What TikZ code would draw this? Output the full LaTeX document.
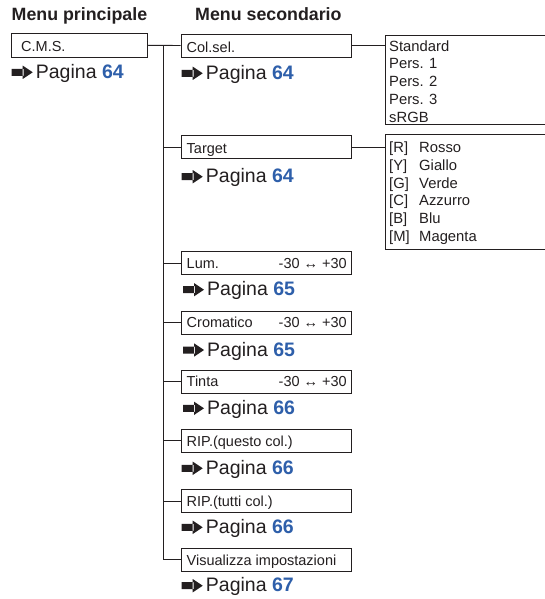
\documentclass[tikz,border=0pt]{standalone}
\usepackage{fontspec}
\setmainfont{Liberation Sans}
\definecolor{pblue}{RGB}{46,95,170}
\definecolor{ink}{RGB}{35,31,32}
\newcommand\pagref[4]{%
  \fill[ink] (#2,#3-9.5) rectangle (#2+12,#3-2.5)
             (#2+11,#3-12.7) -- (#2+21,#3-6) -- (#2+11,#3+0.7) -- cycle;
  \node[pagtxt] (#1) at (#2+24,#3) {Pagina \textcolor{pblue}{\textbf{#4}}};}
\begin{document}
\begin{tikzpicture}[x=1pt,y=-1pt,
  box/.style={draw=ink,line width=0.9pt,rectangle,inner sep=0pt,minimum width=170.5pt,minimum height=23pt},
  lab/.style={anchor=base west,inner sep=0pt,font=\fontsize{14.5}{16}\selectfont,text=ink},
  rng/.style={anchor=base east,inner sep=0pt,font=\fontsize{14.5}{16}\selectfont,text=ink},
  opt/.style={anchor=base west,inner sep=0pt,font=\fontsize{14.8}{16}\selectfont,text=ink},
  head/.style={anchor=base west,inner sep=0pt,font=\fontsize{17.8}{20}\selectfont\bfseries,text=ink},
  pagtxt/.style={anchor=base west,inner sep=0pt,font=\fontsize{19.5}{22}\selectfont,text=ink},
  conn/.style={draw=ink,line width=0.9pt}]
\useasboundingbox (0,0) rectangle (545,599);
\clip (0,0) rectangle (545,599);
\fill[white] (0,0) rectangle (545,599);
% headers
\node[head] (h1) at (11.5,21) {Menu principale};
\node[head] (h2) at (195,21) {Menu secondario};
% main menu
\node[box,minimum width=136.4pt,minimum height=24pt] (cms) at (79.5,45.3) {};
\node[lab] (cmsl) at (21,52) {C.M.S.};
\pagref{p0}{11.7}{78.3}{64}
% sub boxes
\node[box] (col) at (266.25,45.5) {};
\node[lab] (coll) at (186.5,52.3) {Col.sel.};
\pagref{p1}{181.7}{79.3}{64}
\node[box] (tar) at (266.25,147.2) {};
\node[lab] (tarl) at (186.5,153.5) {Target};
\pagref{p2}{181.7}{182.7}{64}
\node[box] (lum) at (266.25,263.2) {};
\node[lab] (luml) at (186.5,268.6) {Lum.};
\node[rng] (lumr) at (347,268.6) {-30 ↔ +30};
\pagref{p3}{183}{295.7}{65}
\node[box] (cro) at (266.25,322.5) {};
\node[lab] (crol) at (186.5,327.9) {Cromatico};
\node[rng] (cror) at (347,327.9) {-30 ↔ +30};
\pagref{p4}{183}{356}{65}
\node[box] (tin) at (266.25,381.5) {};
\node[lab] (tinl) at (186.5,386.9) {Tinta};
\node[rng] (tinr) at (347,386.9) {-30 ↔ +30};
\pagref{p5}{183}{414.3}{66}
\node[box] (ripq) at (266.25,440.8) {};
\node[lab] (ripql) at (186.5,446.2) {RIP.(questo col.)};
\pagref{p6}{181.7}{474.3}{66}
\node[box] (ript) at (266.25,501.2) {};
\node[lab] (riptl) at (186.5,506.6) {RIP.(tutti col.)};
\pagref{p7}{181.7}{533.3}{66}
\node[box] (vis) at (266.25,559.8) {};
\node[lab] (visl) at (186.5,565.2) {Visualizza impostazioni};
\pagref{p8}{181.7}{591.7}{67}
% option boxes
\node[box,minimum width=175pt,minimum height=89pt] (o1) at (472.5,79.5) {};
\node[opt] (s1) at (389,51.2) {Standard};
\node[opt] (s2) at (389,68.9) {Pers. 1};
\node[opt] (s3) at (389,86.6) {Pers. 2};
\node[opt] (s4) at (389,104.3) {Pers. 3};
\node[opt] (s5) at (389,122) {sRGB};
\node[box,minimum width=175pt,minimum height=115pt] (o2) at (472.5,191.5) {};
\node[opt] (t1) at (389,152.7) {\makebox[30pt][l]{[R]}Rosso};
\node[opt] (t2) at (389,170.4) {\makebox[30pt][l]{[Y]}Giallo};
\node[opt] (t3) at (389,188) {\makebox[30pt][l]{[G]}Verde};
\node[opt] (t4) at (389,205.7) {\makebox[30pt][l]{[C]}Azzurro};
\node[opt] (t5) at (389,223.4) {\makebox[30pt][l]{[B]}Blu};
\node[opt] (t6) at (389,241) {\makebox[30pt][l]{[M]}Magenta};
% connectors
\coordinate (trunk) at (163.3,45.4);
\draw[conn] (cms.east) -- (col.west);
\draw[conn] (trunk) |- (vis.west);
\foreach \n in {tar,lum,cro,tin,ripq,ript}{\draw[conn] (trunk|-\n.west) -- (\n.west);}
\draw[conn] (col.east) -- (col.east-|o1.west);
\draw[conn] (tar.east) -- (tar.east-|o2.west);
\end{tikzpicture}
\end{document}
